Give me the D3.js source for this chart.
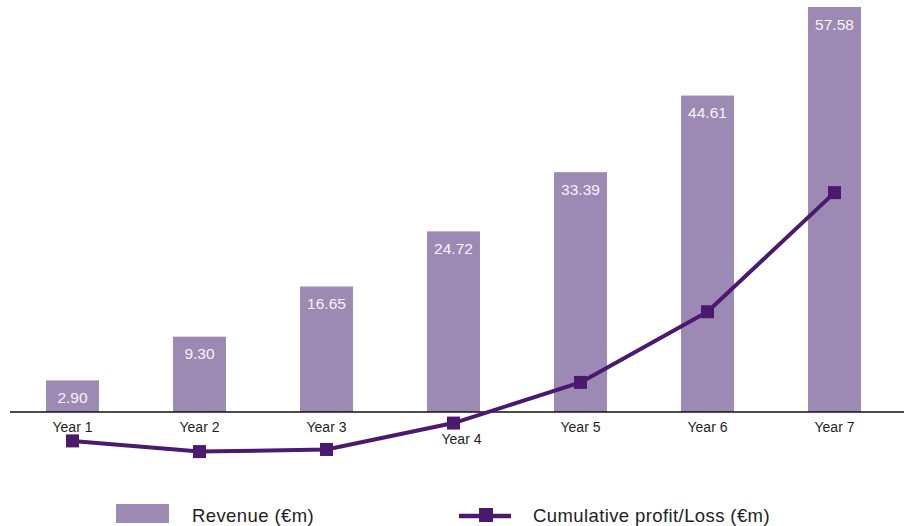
<!DOCTYPE html>
<html>
<head>
<meta charset="utf-8">
<script src="https://cdn.jsdelivr.net/npm/d3@7/dist/d3.min.js"></script>
<style>
  html, body { margin: 0; padding: 0; background: #fff; }
  svg { display: block; font-family: "Liberation Sans", Arial, Helvetica, sans-serif; }
</style>
</head>
<body>
<svg id="chart" width="904" height="526"></svg>
<script>
// Seven-year projection: revenue bars with a cumulative profit/loss line
const years = ["Year 1", "Year 2", "Year 3", "Year 4", "Year 5", "Year 6", "Year 7"];
const revenue = [2.90, 9.30, 16.65, 24.72, 33.39, 44.61, 57.58];
const cumulativeProfit = [-4.1, -5.6, -5.3, -1.6, 4.1, 14.0, 30.7];
const legendLabels = ["Revenue (€m)", "Cumulative profit/Loss (€m)"];

const barColor = "#9d8ab4";
const lineColor = "#4b196e";
const W = 904, H = 526;
const baseY = 412;

const svg = d3.select("#chart");

const x = d3.scaleBand()
  .domain(years)
  .range([9, 898])
  .paddingInner(0.583)
  .paddingOuter(0.2915);

// Revenue axis (its minimum sits on the category line)
const yBar = d3.scaleLinear()
  .domain([-1.73, 57.58])
  .range([baseY, 7]);

// Profit/loss axis, zero on the category line
const y = d3.scaleLinear()
  .domain([-10, 57.7])
  .range([483, 0]);

const cx = d => x(d) + x.bandwidth() / 2;

// Revenue bars
svg.append("g")
  .selectAll("rect")
  .data(years)
  .join("rect")
  .attr("x", d => x(d))
  .attr("width", x.bandwidth())
  .attr("y", (d, i) => yBar(revenue[i]))
  .attr("height", (d, i) => baseY - yBar(revenue[i]))
  .attr("fill", barColor);

// Value labels inside the top of each bar
svg.append("g")
  .selectAll("text")
  .data(years)
  .join("text")
  .attr("x", d => cx(d))
  .attr("y", (d, i) => yBar(revenue[i]) + 22.5)
  .attr("text-anchor", "middle")
  .attr("font-size", "15.5px")
  .attr("fill", "#f6f4f9")
  .text((d, i) => revenue[i].toFixed(2));

// Category line
svg.append("line")
  .attr("x1", 10).attr("x2", W)
  .attr("y1", baseY).attr("y2", baseY)
  .attr("stroke", "#111")
  .attr("stroke-width", 1.3);

// Category labels under the line
const axis = svg.append("g")
  .attr("transform", `translate(0,${baseY})`)
  .call(d3.axisBottom(x).tickSize(0).tickPadding(0));
axis.select(".domain").remove();
axis.selectAll("text")
  .attr("font-family", "'Liberation Sans', Arial, sans-serif")
  .attr("font-size", "14px")
  .attr("fill", "#1e1e1e")
  .attr("dy", null)
  .attr("y", 20);
// Nudge a label out of the way where the line's marker sits on it
axis.selectAll(".tick").each(function(d, i) {
  const my = y(cumulativeProfit[i]);
  if (my > baseY && my < baseY + 18) {
    d3.select(this).select("text").attr("x", 8).attr("y", 31.5);
  }
});

// Cumulative profit/loss line
const line = d3.line()
  .x((d, i) => cx(years[i]))
  .y(d => y(d));

svg.append("path")
  .datum(cumulativeProfit)
  .attr("d", line)
  .attr("fill", "none")
  .attr("stroke", lineColor)
  .attr("stroke-width", 4)
  .attr("stroke-linejoin", "round");

const ms = 13;
svg.append("g")
  .selectAll("rect")
  .data(cumulativeProfit)
  .join("rect")
  .attr("x", (d, i) => cx(years[i]) - ms / 2)
  .attr("y", d => y(d) - ms / 2)
  .attr("width", ms)
  .attr("height", ms)
  .attr("fill", lineColor);

// Legend
const legend = svg.append("g")
  .attr("font-size", "18.5px")
  .attr("letter-spacing", "0.4px")
  .attr("fill", "#222");
legend.append("rect")
  .attr("x", 116).attr("y", 504)
  .attr("width", 53).attr("height", 19)
  .attr("fill", barColor);
legend.append("text")
  .attr("x", 192).attr("y", 522)
  .text(legendLabels[0]);

legend.append("line")
  .attr("x1", 459).attr("x2", 511)
  .attr("y1", 516).attr("y2", 516)
  .attr("stroke", lineColor)
  .attr("stroke-width", 4.5);
legend.append("rect")
  .attr("x", 479).attr("y", 508)
  .attr("width", 14).attr("height", 14)
  .attr("fill", lineColor);
legend.append("text")
  .attr("x", 533).attr("y", 522)
  .text(legendLabels[1]);
</script>
</body>
</html>
